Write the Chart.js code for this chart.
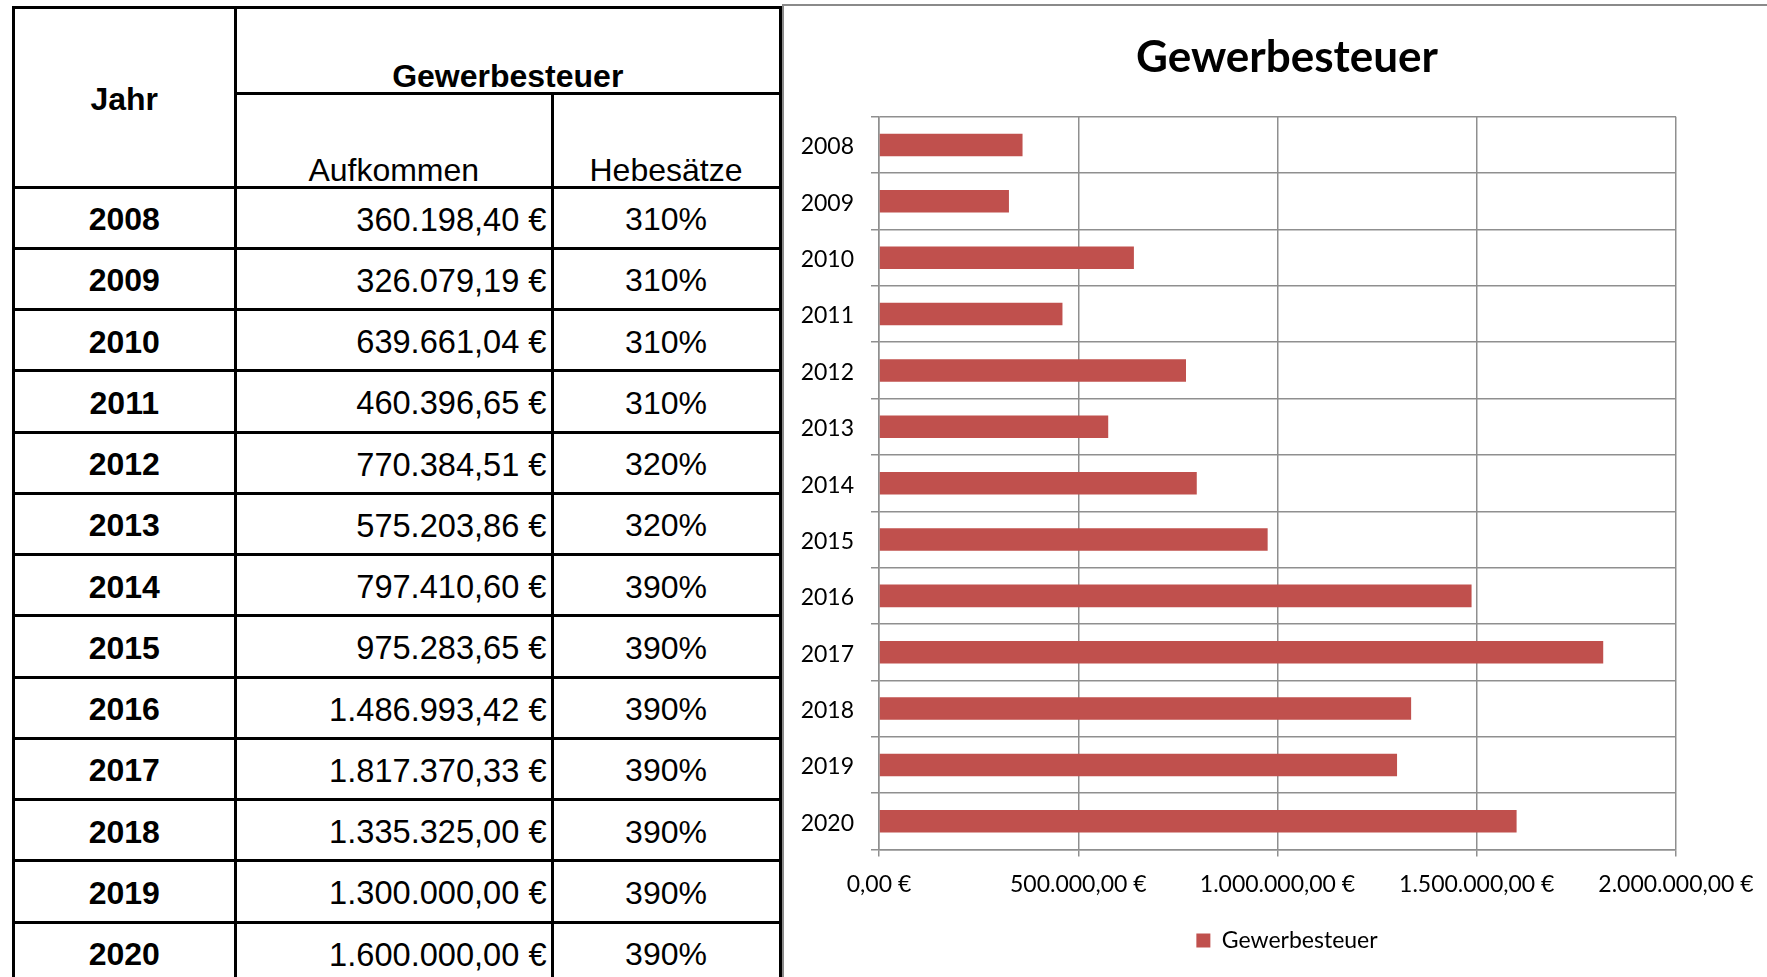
<!DOCTYPE html>
<html lang="de">
<head>
<meta charset="utf-8">
<title>Gewerbesteuer</title>
<script src="https://cdn.jsdelivr.net/npm/chart.js@4/dist/chart.umd.min.js"></script>
<style>
    html, body {
        margin: 0;
        padding: 0;
        background: #fff;
        width: 1767px;
        height: 977px;
        overflow: hidden;
        position: relative;
    }
    #tab {
        position: absolute;
        left: 11.5px;
        top: 5.5px;
        border-collapse: collapse;
        table-layout: fixed;
        font-family: "Liberation Sans", Arial, sans-serif;
        font-size: 32px;
        color: #000;
    }
    #tab th, #tab td {
        border: 3px solid #000;
        padding: 0;
        line-height: 1.1;
    }
    #tab th.jahr { vertical-align: middle; font-weight: bold; padding-top: 5px; }
    #tab th.gw { vertical-align: bottom; font-weight: bold; line-height: 1.0; }
    #tab th.sub { vertical-align: bottom; font-weight: normal; line-height: 1.0; }
    #tab td { vertical-align: middle; padding-top: 4px; }
    #tab td.year { text-align: center; font-weight: bold; }
    #tab td.amount { text-align: right; padding-right: 4px; font-size: 32.6px; }
    #tab td.rate { text-align: center; }
    #frame {
        position: absolute;
        left: 782px;
        top: 4px;
        width: 1200px;
        height: 1200px;
        border-left: 2px solid #8a8a8a;
        border-top: 2px solid #8a8a8a;
    }
    #chart {
        position: absolute;
        left: 783px;
        top: 0;
    }
</style>
</head>
<body>
<table id="tab">
    <colgroup>
        <col style="width:222.5px">
        <col style="width:316.5px">
        <col style="width:228px">
    </colgroup>
    <thead>
        <tr style="height:86.5px">
            <th rowspan="2" class="jahr">Jahr</th>
            <th colspan="2" class="gw">Gewerbesteuer</th>
        </tr>
        <tr style="height:93.5px">
            <th class="sub">Aufkommen</th>
            <th class="sub">Hebesätze</th>
        </tr>
    </thead>
    <tbody id="rows"></tbody>
</table>
<div id="frame"></div>
<canvas id="chart" width="1008" height="977"></canvas>

<script>
const years = ["2008", "2009", "2010", "2011", "2012", "2013", "2014",
               "2015", "2016", "2017", "2018", "2019", "2020"];
const aufkommen = [360198.40, 326079.19, 639661.04, 460396.65, 770384.51, 575203.86, 797410.60,
                   975283.65, 1486993.42, 1817370.33, 1335325.00, 1300000.00, 1600000.00];
const hebesaetze = ["310%", "310%", "310%", "310%", "320%", "320%", "390%",
                    "390%", "390%", "390%", "390%", "390%", "390%"];
const axisMin = 0;
const axisMax = 2000000;
const axisStep = 500000;

function euro(v) {
    let parts = Number(v).toFixed(2).split(".");
    let whole = parts[0].replace(/\B(?=(\d{3})+(?!\d))/g, ".");
    return whole + "," + parts[1] + " €";
}

document.addEventListener("DOMContentLoaded", function () {
    fillTable();
    renderChart();
});

function fillTable() {
    let body = document.getElementById("rows");
    years.forEach((year, i) => {
        let tr = document.createElement("tr");
        tr.style.height = "61.25px";
        tr.innerHTML = '<td class="year">' + year + '</td>' +
            '<td class="amount">' + euro(aufkommen[i]) + '</td>' +
            '<td class="rate">' + hebesaetze[i] + '</td>';
        body.appendChild(tr);
    });
}

function renderChart() {
    const labelFont = { family: "Lato", size: 23 };
    const gridColor = "#8f8f8f";

    const ctx = document.getElementById("chart").getContext("2d");
    new Chart(ctx, {
        type: "bar",
        data: {
            labels: years,
            datasets: [{
                label: "Gewerbesteuer",
                data: aufkommen,
                backgroundColor: "#C0504D",
                borderWidth: 0,
                barPercentage: 0.4,
                categoryPercentage: 1.0
            }]
        },
        options: {
            indexAxis: "y",
            responsive: false,
            animation: false,
            layout: { padding: { left: 0, right: 0, top: 0, bottom: 15 } },
            plugins: {
                title: {
                    display: true,
                    text: "Gewerbesteuer",
                    color: "#000",
                    font: { family: "Lato", size: 44, weight: "bold", lineHeight: 1.2 },
                    padding: { top: 31, bottom: 33 }
                },
                legend: {
                    position: "bottom",
                    labels: {
                        color: "#000",
                        font: labelFont,
                        boxWidth: 14,
                        boxHeight: 14,
                        padding: 10
                    }
                },
                tooltip: { enabled: false }
            },
            scales: {
                x: {
                    min: axisMin,
                    max: axisMax,
                    ticks: {
                        stepSize: axisStep,
                        color: "#000",
                        font: labelFont,
                        padding: 14,
                        maxRotation: 0,
                        autoSkip: false,
                        callback: value => euro(value)
                    },
                    grid: { color: gridColor, lineWidth: 1.5, tickLength: 7 },
                    border: { color: gridColor, width: 1.5 },
                    afterFit: scale => { scale.height = 69.5; }
                },
                y: {
                    position: "left",
                    ticks: { color: "#000", font: labelFont, padding: 17, labelOffset: 2 },
                    grid: { color: gridColor, lineWidth: 1.5, tickLength: 8, offset: true },
                    border: { color: gridColor, width: 1.5 },
                    afterFit: scale => { scale.width = 96; }
                },
                // empty right axis, only reserves the space right of the plot
                yRight: {
                    type: "category",
                    position: "right",
                    grid: { display: false },
                    ticks: { display: false },
                    border: { display: false },
                    afterFit: scale => { scale.width = 115; }
                }
            }
        }
    });
}
</script>
</body>
</html>
